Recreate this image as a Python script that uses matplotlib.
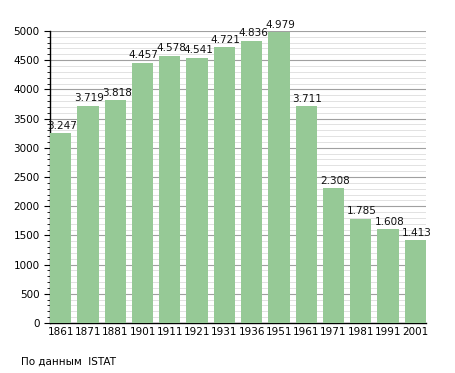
import numpy as np
import matplotlib.pyplot as plt
from matplotlib.ticker import MultipleLocator

# population by census year
years = ['1861', '1871', '1881', '1901', '1911', '1921', '1931',
         '1936', '1951', '1961', '1971', '1981', '1991', '2001']
population = [3247, 3719, 3818, 4457, 4578, 4541, 4721,
              4836, 4979, 3711, 2308, 1785, 1608, 1413]
value_labels = ['3.247', '3.719', '3.818', '4.457', '4.578', '4.541', '4.721',
                '4.836', '4.979', '3.711', '2.308', '1.785', '1.608', '1.413']

fig = plt.figure(figsize=(4.55, 3.73), dpi=100)
ax = fig.add_axes([0.11, 0.134, 0.826, 0.783])

x = np.arange(len(years))
w = 0.78
ax.bar(x, population, width=w, color='#96c996', zorder=3)

for xi, val, lab in zip(x, population, value_labels):
    ax.text(xi + 0.05, val + 40, lab, ha='center', va='bottom', fontsize=7.5, color='#111111')

ax.set_xlim(-w / 2, len(years) - 1 + w / 2)
ax.set_ylim(0, 5000)
ax.yaxis.set_major_locator(MultipleLocator(500))
ax.yaxis.set_minor_locator(MultipleLocator(100))
ax.grid(axis='y', which='major', color='#a0a0a0', linewidth=0.8, zorder=0)
ax.grid(axis='y', which='minor', color='#dddddd', linewidth=0.6, zorder=0)

ax.set_xticks(x)
ax.set_xticklabels(years)
ax.tick_params(axis='x', length=0, labelsize=7.5, pad=3)
ax.tick_params(axis='y', which='major', length=4, labelsize=7.5, direction='out')
ax.tick_params(axis='y', which='minor', length=2, direction='out')

for s in ['top', 'right']:
    ax.spines[s].set_visible(False)
ax.spines['left'].set_linewidth(1.0)
ax.spines['bottom'].set_linewidth(1.0)

fig.text(21 / 455, 1 - 362 / 373, 'По данным  ISTAT', fontsize=7.5, va='center', ha='left')

fig.savefig('out.png', dpi=100)
